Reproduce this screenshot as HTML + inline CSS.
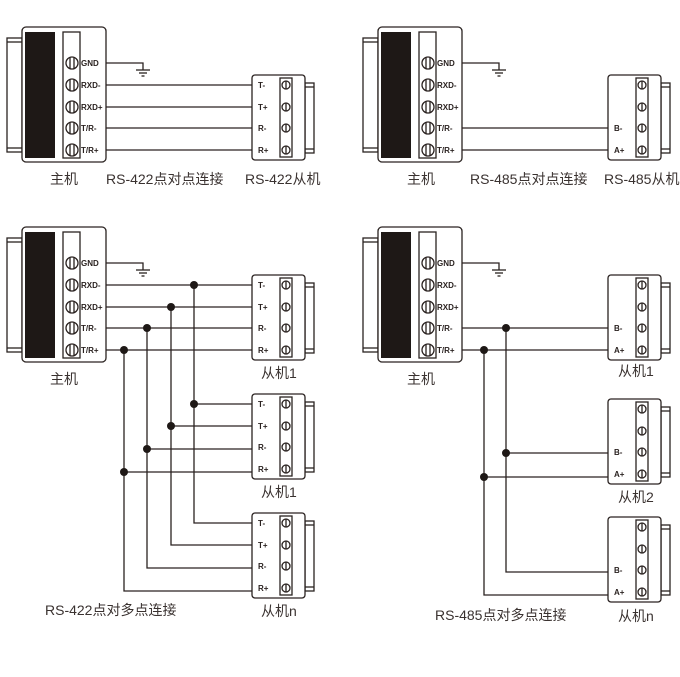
<!DOCTYPE html>
<html><head><meta charset="utf-8"><style>
html,body{margin:0;padding:0;background:#fff;}
svg{display:block;}
.l{font-family:"Liberation Sans",sans-serif;font-weight:bold;font-size:8px;fill:#2a2220;}
.c{font-family:"Liberation Sans","Noto Sans CJK SC",sans-serif;font-size:14px;fill:#3a3230;}
</style></head><body>
<svg width="680" height="677" viewBox="0 0 680 677" xmlns="http://www.w3.org/2000/svg">
<defs>
<g id="host" fill="none" stroke="#2a2220" stroke-width="1.3">
  <rect x="-15" y="11" width="15" height="114" fill="#fff"/>
  <line x1="-15" y1="15" x2="0" y2="15"/>
  <line x1="-15" y1="121" x2="0" y2="121"/>
  <rect x="0" y="0" width="84" height="135" rx="4" fill="#fff"/>
  <rect x="3" y="5" width="30" height="126" fill="#1e1816" stroke="none"/>
  <rect x="41" y="5" width="17" height="126"/>
  <g id="hs"><circle cx="50" cy="36" r="6"/><line x1="48" y1="30.5" x2="48" y2="41.5"/><line x1="52" y1="30.5" x2="52" y2="41.5"/></g>
  <use href="#hs" y="22"/><use href="#hs" y="44"/><use href="#hs" y="65"/><use href="#hs" y="87"/>
</g>
<g id="slave" fill="none" stroke="#2a2220" stroke-width="1.3">
  <rect x="53" y="8" width="9" height="70" fill="#fff"/>
  <line x1="53" y1="12" x2="62" y2="12"/><line x1="53" y1="74" x2="62" y2="74"/>
  <rect x="0" y="0" width="53" height="85" rx="3" fill="#fff"/>
  <rect x="28" y="3" width="12" height="79"/>
  <g id="ss"><circle cx="34" cy="10" r="4"/><line x1="34" y1="6" x2="34" y2="14"/></g>
  <use href="#ss" y="22"/><use href="#ss" y="43"/><use href="#ss" y="65"/>
</g>
<g id="gnd" stroke="#2a2220" stroke-width="1.3" fill="none">
  <polyline points="0,0 37,0 37,7"/>
  <line x1="30" y1="7" x2="44" y2="7"/><line x1="33" y1="10" x2="41" y2="10"/><line x1="35.5" y1="13" x2="38.5" y2="13"/>
</g>
<g id="hl">
  <text class="l" x="59" y="39">GND</text><text class="l" x="59" y="61">RXD-</text><text class="l" x="59" y="83">RXD+</text><text class="l" x="59" y="104">T/R-</text><text class="l" x="59" y="126">T/R+</text>
</g>
<g id="s422">
  <text class="l" x="6" y="13">T-</text><text class="l" x="6" y="35">T+</text><text class="l" x="6" y="56">R-</text><text class="l" x="6" y="78">R+</text>
</g>
<g id="s485">
  <text class="l" x="6" y="56">B-</text><text class="l" x="6" y="78">A+</text>
</g>
</defs>

<use href="#host" x="22" y="27"/><use href="#hl" x="22" y="27"/>
<use href="#gnd" x="106" y="63"/>
<g stroke="#2a2220" stroke-width="1.3">
<line x1="106" y1="85" x2="252" y2="85"/><line x1="106" y1="107" x2="252" y2="107"/>
<line x1="106" y1="128" x2="252" y2="128"/><line x1="106" y1="150" x2="252" y2="150"/>
</g>
<use href="#slave" x="252" y="75"/><use href="#s422" x="252" y="75"/>
<text class="c" x="50" y="184">主机</text>
<text class="c" x="106" y="184">RS-422点对点连接</text>
<text class="c" x="245" y="184">RS-422从机</text>

<use href="#host" x="378" y="27"/><use href="#hl" x="378" y="27"/>
<use href="#gnd" x="462" y="63"/>
<g stroke="#2a2220" stroke-width="1.3">
<line x1="462" y1="128" x2="608" y2="128"/><line x1="462" y1="150" x2="608" y2="150"/>
</g>
<use href="#slave" x="608" y="75"/><use href="#s485" x="608" y="75"/>
<text class="c" x="407" y="184">主机</text>
<text class="c" x="470" y="184">RS-485点对点连接</text>
<text class="c" x="604" y="184">RS-485从机</text>

<use href="#host" x="22" y="227"/><use href="#hl" x="22" y="227"/>
<use href="#gnd" x="106" y="263"/>
<g stroke="#2a2220" stroke-width="1.3" fill="none">
<line x1="106" y1="285" x2="252" y2="285"/><line x1="106" y1="307" x2="252" y2="307"/>
<line x1="106" y1="328" x2="252" y2="328"/><line x1="106" y1="350" x2="252" y2="350"/>
<polyline points="194,285 194,523 252,523"/><polyline points="171,307 171,545 252,545"/>
<polyline points="147,328 147,568 252,568"/><polyline points="124,350 124,591 252,591"/>
<line x1="194" y1="404" x2="252" y2="404"/><line x1="171" y1="426" x2="252" y2="426"/>
<line x1="147" y1="449" x2="252" y2="449"/><line x1="124" y1="472" x2="252" y2="472"/>
</g>
<g fill="#1e1816">
<circle cx="194" cy="285" r="4"/><circle cx="171" cy="307" r="4"/><circle cx="147" cy="328" r="4"/><circle cx="124" cy="350" r="4"/>
<circle cx="194" cy="404" r="4"/><circle cx="171" cy="426" r="4"/><circle cx="147" cy="449" r="4"/><circle cx="124" cy="472" r="4"/>
</g>
<use href="#slave" x="252" y="275"/><use href="#s422" x="252" y="275"/>
<use href="#slave" x="252" y="394"/><use href="#s422" x="252" y="394"/>
<use href="#slave" x="252" y="513"/><use href="#s422" x="252" y="513"/>
<text class="c" x="50" y="384">主机</text>
<text class="c" x="261" y="378">从机1</text>
<text class="c" x="261" y="497">从机1</text>
<text class="c" x="261" y="616">从机n</text>
<text class="c" x="45" y="615">RS-422点对多点连接</text>

<use href="#host" x="378" y="227"/><use href="#hl" x="378" y="227"/>
<use href="#gnd" x="462" y="263"/>
<g stroke="#2a2220" stroke-width="1.3" fill="none">
<line x1="462" y1="328" x2="608" y2="328"/><line x1="462" y1="350" x2="608" y2="350"/>
<polyline points="506,328 506,572 608,572"/><polyline points="484,350 484,595 608,595"/>
<line x1="506" y1="453" x2="608" y2="453"/><line x1="484" y1="477" x2="608" y2="477"/>
</g>
<g fill="#1e1816">
<circle cx="506" cy="328" r="4"/><circle cx="484" cy="350" r="4"/><circle cx="506" cy="453" r="4"/><circle cx="484" cy="477" r="4"/>
</g>
<use href="#slave" x="608" y="275"/><use href="#s485" x="608" y="275"/>
<use href="#slave" x="608" y="399"/><use href="#s485" x="608" y="399"/>
<use href="#slave" x="608" y="517"/><use href="#s485" x="608" y="517"/>
<text class="c" x="407" y="384">主机</text>
<text class="c" x="618" y="376">从机1</text>
<text class="c" x="618" y="502">从机2</text>
<text class="c" x="618" y="621">从机n</text>
<text class="c" x="435" y="620">RS-485点对多点连接</text>
</svg>
</body></html>
